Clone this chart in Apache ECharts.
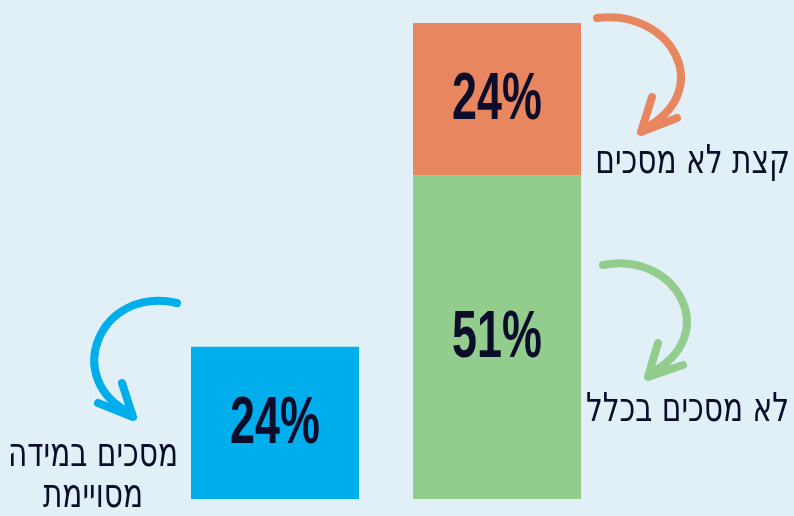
<!DOCTYPE html>
<html>
<head>
<meta charset="utf-8">
<script src="https://cdn.jsdelivr.net/npm/echarts@6/dist/echarts.min.js"></script>
<style>
  html, body { margin: 0; padding: 0; background: #e1f0f6; }
  #chart { width: 794px; height: 516px; }
</style>
</head>
<body>
<div id="chart"></div>
<script>
// שתי עמודות: מסכים במידה מסוימת / לא מסכים (מוערם)
var categories = ['מסכים במידה מסויימת', 'לא מסכים'];
var seriesNames = ['מסכים במידה מסויימת', 'לא מסכים בכלל', 'קצת לא מסכים'];
var blueValues = [24, '-'];
var greenValues = ['-', 51];
var orangeValues = ['-', 24];

var darkText = '#0b0d2b';
var hebFont = '"DejaVu Sans", sans-serif';

var chart = echarts.init(document.getElementById('chart'));

// מיקום התוויות: אמצע כל מקטע בעמודה
var labelData = [];
var bases = [0, 0];
[blueValues, greenValues, orangeValues].forEach(function (arr) {
    for (var i = 0; i < arr.length; i++) {
        if (arr[i] === '-') continue;
        labelData.push([i, bases[i] + arr[i] / 2, arr[i]]);
        bases[i] += arr[i];
    }
});

function arrow(color, curve, head) {
    return [{
        type: 'bezierCurve',
        shape: curve,
        style: { stroke: color, lineWidth: 8, lineCap: 'round', fill: null }
    }, {
        type: 'polyline',
        shape: { points: head },
        style: { stroke: color, lineWidth: 8, lineCap: 'round', lineJoin: 'round', fill: null }
    }];
}

function hebText(txt, x, y, align) {
    return {
        type: 'text', x: x, y: y, scaleX: 0.74,
        style: { text: txt, fontSize: 40, fontFamily: hebFont, fill: darkText,
                 align: align, verticalAlign: 'middle' }
    };
}

var option = {
    backgroundColor: '#e1f0f6',
    animation: false,
    grid: { left: 164, right: 186, top: 23, bottom: 17 },
    xAxis: {
        type: 'category',
        data: categories,
        axisLine: { show: false },
        axisTick: { show: false },
        axisLabel: { show: false }
    },
    yAxis: {
        type: 'value',
        min: 0,
        max: 75,
        axisLine: { show: false },
        axisTick: { show: false },
        axisLabel: { show: false },
        splitLine: { show: false }
    },
    series: [
        { name: seriesNames[0], type: 'bar', stack: 'all', barWidth: 168, data: blueValues,
          itemStyle: { color: '#00aeeb' } },
        { name: seriesNames[1], type: 'bar', stack: 'all', barWidth: 168, data: greenValues,
          itemStyle: { color: '#92cd8e' } },
        { name: seriesNames[2], type: 'bar', stack: 'all', barWidth: 168, data: orangeValues,
          itemStyle: { color: '#e8875f' } },
        {
            type: 'custom',
            data: labelData,
            z: 10,
            renderItem: function (params, api) {
                var pt = api.coord([api.value(0), api.value(1)]);
                return {
                    type: 'text',
                    x: pt[0], y: pt[1] + 2,
                    scaleX: 0.68,
                    style: {
                        text: api.value(2) + '%',
                        fontSize: 66,
                        fontWeight: 'bold',
                        fontFamily: '"Liberation Sans", Arial, sans-serif',
                        fill: darkText,
                        align: 'center',
                        verticalAlign: 'middle'
                    }
                };
            }
        }
    ],
    graphic: [].concat(
        arrow('#e8875f',
            { x1: 597, y1: 18, cpx1: 672, cpy1: 8, cpx2: 718, cpy2: 92, x2: 642, y2: 130 },
            [[652, 97], [641, 132], [677, 118]]),
        arrow('#92cd8e',
            { x1: 603, y1: 265, cpx1: 675, cpy1: 250, cpx2: 725, cpy2: 335, x2: 649, y2: 374 },
            [[658, 343], [648, 377], [683, 365]]),
        arrow('#00aeeb',
            { x1: 177, y1: 303, cpx1: 100, cpy1: 285, cpx2: 60, cpy2: 380, x2: 132, y2: 414 },
            [[122, 383], [133, 417], [98, 403]]),
        [
            hebText(seriesNames[2], 790, 163, 'right'),
            hebText(seriesNames[1], 789, 411, 'right'),
            hebText('מסכים במידה', 93, 456, 'center'),
            hebText('מסויימת', 93, 497, 'center')
        ]
    )
};

chart.setOption(option);

window.onresize = function () {
    chart.resize();
};
</script>
</body>
</html>
